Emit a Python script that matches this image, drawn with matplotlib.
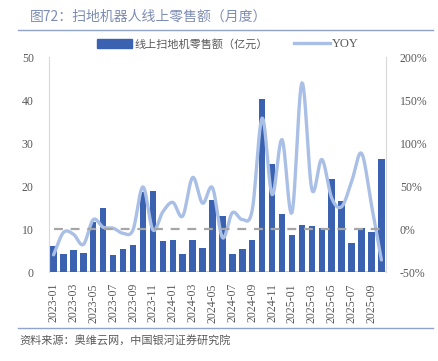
import matplotlib
matplotlib.use("Agg")
import matplotlib.pyplot as plt
from matplotlib.lines import Line2D
from matplotlib.patches import Patch
import numpy as np

plt.rcParams['font.family'] = ['Noto Sans CJK SC', 'DejaVu Sans']

# ── Data ──────────────────────────────────────────────────────────────────────
months = [f"{y}-{m:02d}" for y in (2023, 2024, 2025) for m in range(1, 13)][:34]

sales = [6.0, 4.1, 5.1, 4.5, 11.7, 14.8, 3.9, 5.3, 6.3, 18.7, 18.9, 7.1,
         7.4, 4.1, 7.4, 5.7, 16.7, 13.1, 4.3, 5.4, 7.4, 40.3, 25.1, 13.6,
         8.6, 10.9, 10.8, 10.2, 21.7, 16.5, 6.7, 10.2, 9.3, 26.4]

yoy = [-30, -4, -6, -18, 11, 2, 1, -5, -1, 49, -1, 20,
       31, 15, 60, 30, 48, -10, 19, 11, 22, 129, 40, 104,
       19, 170, 46, 81, 36, 26, 55, 88, 28, -36]

BAR_C  = "#3A62B0"
LINE_C = "#A9BFE6"
GRID_C = "#D9D9D9"
TXT_C  = "#595959"
NUM_FONT = ["Liberation Serif", "Noto Sans CJK SC"]


def smooth(xs, ys, n=12):
    """Catmull-Rom style smoothing like Excel's smoothed line."""
    xs = np.asarray(xs, float)
    ys = np.asarray(ys, float)
    px = np.concatenate([[2 * xs[0] - xs[1]], xs, [2 * xs[-1] - xs[-2]]])
    py = np.concatenate([[2 * ys[0] - ys[1]], ys, [2 * ys[-1] - ys[-2]]])
    outx, outy = [], []
    for i in range(1, len(px) - 2):
        t = np.linspace(0, 1, n, endpoint=False)
        for arr, out in ((px, outx), (py, outy)):
            p0, p1, p2, p3 = arr[i - 1], arr[i], arr[i + 1], arr[i + 2]
            out.extend(0.5 * ((2 * p1) + (-p0 + p2) * t
                              + (2 * p0 - 5 * p1 + 4 * p2 - p3) * t ** 2
                              + (-p0 + 3 * p1 - 3 * p2 + p3) * t ** 3))
    outx.append(xs[-1])
    outy.append(ys[-1])
    return np.array(outx), np.array(outy)


fig = plt.figure(figsize=(4.38, 3.61), dpi=100)
ax = fig.add_axes([0.112, 0.2465, 0.769, 0.5955])
ax2 = ax.twinx()

x = np.arange(len(months))
ax.bar(x, sales, width=0.65, color=BAR_C, zorder=2)
ax.set_ylim(0, 50)
ax.set_xlim(-0.45, len(months) - 0.55)
ax.set_yticks(range(0, 51, 10))

sx, sy = smooth(x, yoy)
ax2.plot(sx, sy, color=LINE_C, lw=2.4, solid_capstyle='round', zorder=3)
ax2.plot([x[0], x[-1]], [0, 0], color="#A6A6A6", lw=1.6, ls=(0, (4, 3.5)), zorder=4)
ax2.set_ylim(-50, 200)
ax2.set_yticks(range(-50, 201, 50))
ax2.set_yticklabels([f"{v}%" for v in range(-50, 201, 50)])

ax.set_zorder(ax2.get_zorder() - 1)
ax.patch.set_visible(False)

for a in (ax, ax2):
    for s in a.spines.values():
        s.set_visible(False)
    a.tick_params(length=0, labelsize=8.5, colors=TXT_C)
    for lab in a.get_yticklabels():
        lab.set_fontfamily(NUM_FONT)
ax.spines['left'].set_visible(True)
ax.spines['left'].set_color(GRID_C)
ax2.spines['right'].set_visible(True)
ax2.spines['right'].set_color(GRID_C)
ax.axhline(0, color="#BFC9DC", lw=2, zorder=1)
ax.tick_params(axis='y', pad=11)
ax2.tick_params(axis='y', pad=10)

ax.set_xticks(x[::2])
ax.set_xticklabels(months[::2], rotation=90, fontsize=8.5, color=TXT_C,
                   fontfamily=NUM_FONT)
ax.tick_params(axis='x', pad=8)

# Legend
handles = [Patch(color=BAR_C), Line2D([], [], color=LINE_C, lw=2.4)]
leg = fig.legend(handles, ["线上扫地机零售额（亿元）", "YOY"], loc='center',
                 bbox_to_anchor=(0.52, 0.877), ncol=2, frameon=False, fontsize=8,
                 handlelength=3.2, handleheight=0.9, columnspacing=2.4,
                 handletextpad=0.2, labelcolor=TXT_C)
leg.get_texts()[1].set_fontfamily(NUM_FONT)
leg.get_texts()[1].set_fontsize(9)

# Title, rules and source
fig.text(0.068, 0.953, "图72：扫地机器人线上零售额（月度）", fontsize=10,
         color="#7D8CB4", va='center', ha='left')
fig.add_artist(Line2D([0.04, 0.988], [0.918, 0.918], color="#8FA3CC", lw=1))
fig.add_artist(Line2D([0.04, 0.988], [0.092, 0.092], color="#8FA3CC", lw=1))
fig.text(0.045, 0.055, "资料来源：奥维云网，中国银河证券研究院", fontsize=8,
         color=TXT_C, va='center', ha='left')

fig.savefig("out.png", dpi=100)
